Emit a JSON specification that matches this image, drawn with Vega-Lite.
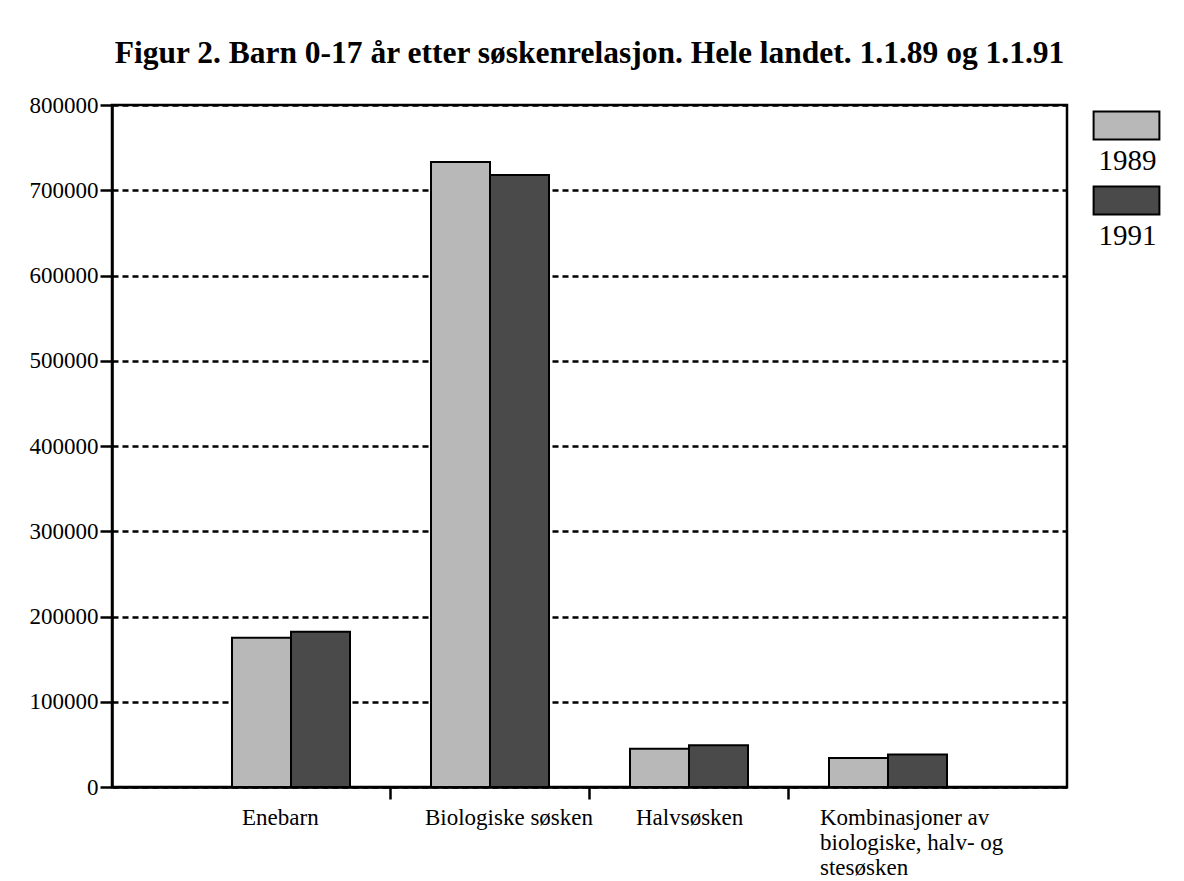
{
  "$schema": "https://vega.github.io/schema/vega-lite/v6.json",
  "autosize": "none",
  "width": 955,
  "height": 682,
  "padding": {"left": 112, "top": 105, "right": 117, "bottom": 94},
  "background": "#ffffff",
  "title": {
    "text": "Figur 2. Barn 0-17 år etter søskenrelasjon. Hele landet. 1.1.89 og 1.1.91",
    "font": "Liberation Serif",
    "fontSize": 31.5,
    "fontWeight": "bold",
    "color": "#000000",
    "anchor": "middle",
    "baseline": "alphabetic",
    "offset": 0
  },
  "data": {
    "values": [
      {"kategori": "Enebarn", "aar": "1989", "antall": 175000},
      {"kategori": "Enebarn", "aar": "1991", "antall": 182000},
      {"kategori": "Biologiske søsken", "aar": "1989", "antall": 733000},
      {"kategori": "Biologiske søsken", "aar": "1991", "antall": 718000},
      {"kategori": "Halvsøsken", "aar": "1989", "antall": 45000},
      {"kategori": "Halvsøsken", "aar": "1991", "antall": 49000},
      {"kategori": "Kombinasjoner av biologiske, halv- og stesøsken", "aar": "1989", "antall": 34000},
      {"kategori": "Kombinasjoner av biologiske, halv- og stesøsken", "aar": "1991", "antall": 38000}
    ]
  },
  "mark": {"type": "bar", "stroke": "#000000", "strokeWidth": 2},
  "encoding": {
    "x": {
      "field": "kategori",
      "type": "nominal",
      "sort": null,
      "scale": {"paddingInner": 0.407, "paddingOuter": 0.603},
      "axis": {
        "title": null,
        "bandPosition": -0.345,
        "domainColor": "#000000",
        "domainWidth": 2.5,
        "tickColor": "#000000",
        "tickWidth": 2.5,
        "tickSize": 12,
        "tickOpacity": {"condition": {"test": "datum.value == 'Enebarn'", "value": 0}, "value": 1},
        "labelAngle": 0,
        "labelAlign": "left",
        "labelBaseline": "top",
        "labelFont": "Liberation Serif",
        "labelFontSize": 23,
        "labelColor": "#000000",
        "labelPadding": 7,
        "labelLineHeight": 25,
        "labelLimit": 400,
        "labelOffset": {
          "condition": [
            {"test": "datum.value == 'Enebarn'", "value": -49},
            {"test": "datum.value == 'Biologiske søsken'", "value": -65},
            {"test": "datum.value == 'Halvsøsken'", "value": -53}
          ],
          "value": -68
        },
        "labelExpr": "datum.value == 'Kombinasjoner av biologiske, halv- og stesøsken' ? ['Kombinasjoner av', 'biologiske, halv- og', 'stesøsken'] : datum.label"
      }
    },
    "xOffset": {"field": "aar", "type": "nominal"},
    "y": {
      "field": "antall",
      "type": "quantitative",
      "scale": {"domain": [0, 800000]},
      "axis": {
        "title": null,
        "values": [0, 100000, 200000, 300000, 400000, 500000, 600000, 700000, 800000],
        "format": "d",
        "grid": true,
        "gridColor": "#000000",
        "gridDash": [6, 4],
        "gridWidth": 2.5,
        "domainColor": "#000000",
        "domainWidth": 2.5,
        "tickColor": "#000000",
        "tickWidth": 2.5,
        "tickSize": 12,
        "labelFont": "Liberation Serif",
        "labelFontSize": 23,
        "labelColor": "#000000",
        "labelPadding": 2
      }
    },
    "color": {
      "field": "aar",
      "type": "nominal",
      "scale": {"domain": ["1989", "1991"], "range": ["#b8b8b8", "#4a4a4a"]},
      "legend": {
        "title": null,
        "orient": "none",
        "legendX": 990,
        "legendY": -4,
        "padding": 0,
        "symbolType": "M-1.4,-0.6L1.4,-0.6L1.4,0.6L-1.4,0.6Z",
        "symbolSize": 2209,
        "symbolStrokeColor": "#000000",
        "symbolStrokeWidth": 2,
        "symbolOpacity": 1,
        "labelFont": "Liberation Serif",
        "labelFontSize": 29,
        "labelColor": "#000000",
        "labelAlign": "center",
        "labelOffset": 0,
        "rowPadding": 0,
        "encode": {"labels": {"update": {"dx": {"value": -23.5}, "dy": {"value": 35}}}}
      }
    }
  },
  "config": {
    "view": {"stroke": "#000000", "strokeWidth": 2.5}
  }
}
